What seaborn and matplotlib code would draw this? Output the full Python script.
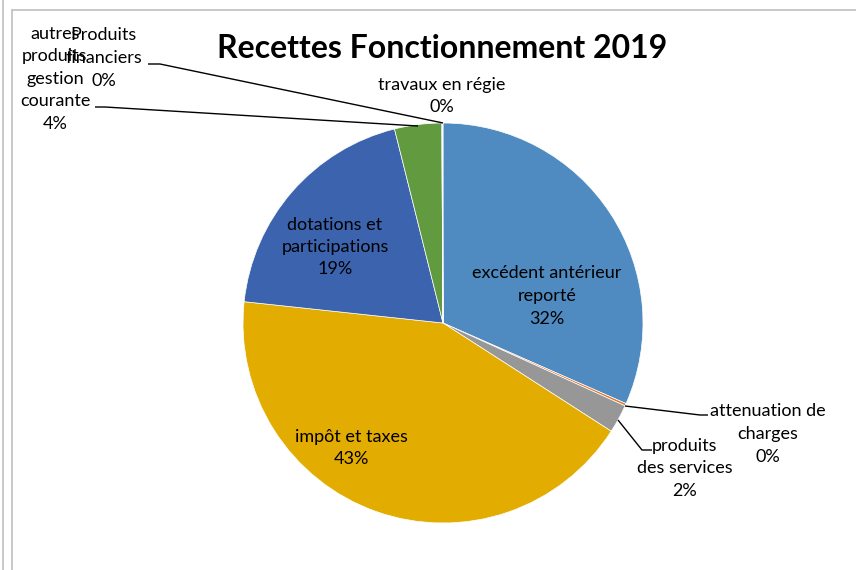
import matplotlib
matplotlib.use("Agg")
import matplotlib.pyplot as plt
import seaborn as sns

sns.set_theme(style="white")
plt.rcParams['font.family'] = ['Lato', 'DejaVu Sans']

categories = ["excédent antérieur\nreporté", "attenuation de\ncharges", "produits\ndes services",
              "impôt et taxes", "dotations et\nparticipations", "autres\nproduits\ngestion\ncourante",
              "Produits\nfinanciers", "travaux en régie"]
values = [31.6, 0.2, 2.3, 42.6, 19.4, 3.8, 0.05, 0.05]
colors = ["#4F8BC0", "#E07B39", "#979797", "#E2AC00", "#3C64AE", "#629B3F", "#24406F", "#F0C890"]

W, H = 856, 570
fig = plt.figure(figsize=(W / 100, H / 100), dpi=100)
ax = fig.add_axes([0, 0, 1, 1])

cx, cy, r = 443, 323, 200
# y axis inverted -> counterclock=True appears clockwise on screen
wedges, _ = ax.pie(values, colors=colors, startangle=-90, counterclock=True,
                   center=(cx, cy), radius=r, frame=True,
                   wedgeprops=dict(linewidth=0.5, edgecolor="white"))
ax.set_xlim(0, W)
ax.set_ylim(H, 0)
ax.set_aspect("equal")
ax.axis("off")

total = sum(values)
pct = [f"{v / total * 100:.0f}%" for v in values]

fs = 13
def lab(i, x, y, ha="center"):
    ax.text(x, y, categories[i] + "\n" + pct[i], ha=ha, va="center", fontsize=fs,
            color="#000000", linespacing=1.5)

lab(0, 547, 296)
lab(1, 768, 434)
lab(2, 685, 468)
lab(3, 351, 448)
lab(4, 335, 247)
lab(5, 55, 79)
lab(6, 104, 58)
lab(7, 442, 96)

# leader lines
lk = dict(color="black", lw=1.0, solid_capstyle="butt")
ax.plot([148, 160, 443], [64, 64, 123], **lk)
ax.plot([95, 105, 418], [107, 107, 126], **lk)
ax.plot([708, 700, 625], [415, 415, 406], **lk)
ax.plot([652, 642, 618], [450, 450, 420], **lk)

ax.text(442, 49, "Recettes Fonctionnement 2019", ha="center", va="center",
        fontsize=23, fontweight="bold", color="#000000")

# frame lines
ax.plot([3, 3], [0, H], color="#BFBFBF", lw=1.2)
ax.plot([12, 12], [10, H], color="#BFBFBF", lw=1.2)
ax.plot([12, W], [10, 10], color="#BFBFBF", lw=1.2)

fig.savefig("out.png", dpi=100)
